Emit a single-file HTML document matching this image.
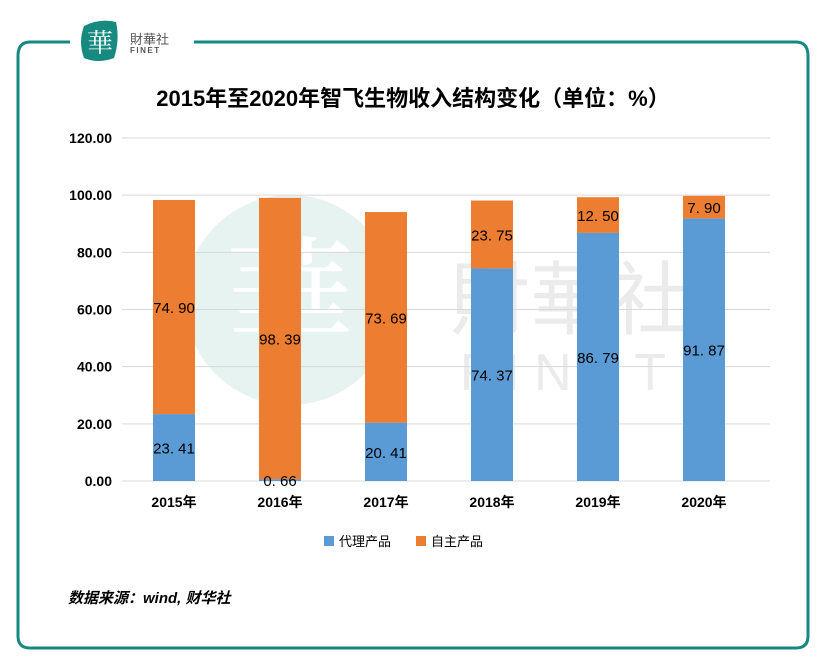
<!DOCTYPE html>
<html><head><meta charset="utf-8"><style>
body{margin:0;width:832px;height:664px;background:#fff;font-family:"Liberation Sans","Noto Sans CJK SC",sans-serif;overflow:hidden}
</style></head><body>
<svg width="832" height="664" style="position:absolute;left:0;top:0">
<path d="M70,42 H30 Q18,42 18,56 V636 Q18,648 30,648 H796 Q808,648 808,636 V56 Q808,42 796,42 H194" fill="none" stroke="#168a80" stroke-width="3"/>
<g>
<path d="M84,26 Q100,18 116,22 Q120,40 114,58 Q98,64 84,58 Q78,42 84,26Z" fill="#168a80"/>
<text x="100" y="52" font-size="26" fill="#fff" text-anchor="middle" font-family="Noto Serif CJK SC,serif">華</text>
<text x="130" y="44" font-size="13" fill="#555" font-family="Noto Sans CJK SC,sans-serif">財華社</text>
<text x="130" y="53" font-size="8" fill="#555" font-weight="bold" letter-spacing="1.5">FINET</text>
</g>
<g opacity="0.5">
<circle cx="290" cy="300" r="105" fill="#cfe8e5"/>
<text x="290" y="345" font-size="130" fill="#fff" text-anchor="middle" font-family="Noto Serif CJK SC,serif">華</text>
<text x="570" y="328" font-size="80" fill="#d9d9d9" text-anchor="middle" font-family="Noto Sans CJK SC,sans-serif">財華社</text>
<text x="570" y="390" font-size="52" fill="#d9d9d9" text-anchor="middle" letter-spacing="14">FINET</text>
</g>
<text x="413" y="106" font-size="22" font-weight="bold" text-anchor="middle">2015年至2020年智飞生物收入结构变化（单位：%）</text>
<g id="plot"></g>
<g>
<rect x="324" y="536" width="10" height="10" fill="#5b9bd5"/>
<text x="339" y="546" font-size="13">代理产品</text>
<rect x="416" y="536" width="10" height="10" fill="#ed7d31"/>
<text x="431" y="546" font-size="13">自主产品</text>
</g>
<text x="68" y="603" font-size="15" font-style="italic" font-weight="bold">数据来源：wind, 财华社</text>
</svg>
<script>
const categories=["2015年","2016年","2017年","2018年","2019年","2020年"];
const agency=[23.41,0.66,20.41,74.37,86.79,91.87];
const own=[74.90,98.39,73.69,23.75,12.50,7.90];
const ticks=[0,20,40,60,80,100,120];
const NS="http://www.w3.org/2000/svg";
const g=document.getElementById('plot');
const x0=121,x1=757,y0=481,y1=138,max=120;
const y=v=>y0-(v/max)*(y0-y1);
const band=(x1-x0)/categories.length;
const xc=i=>x0+band*(i+0.5);
const bw=42;
function mk(t,a){const e=document.createElementNS(NS,t);for(const k in a)e.setAttribute(k,a[k]);g.appendChild(e);return e;}
ticks.forEach(t=>{
const l=mk('line',{x1:122,x2:770,y1:y(t),y2:y(t),stroke:'#d9d9d9','stroke-width':1});


const tx=mk('text',{x:112,y:y(t)+5,'font-size':14,'font-weight':'bold','text-anchor':'end'});
tx.textContent=t.toFixed(2);


});
categories.forEach((c,i)=>{
const ra=mk('rect',{x:xc(i)-bw/2,y:y(agency[i]),width:bw,height:y0-y(agency[i]),fill:'#5b9bd5'});


const ro=mk('rect',{x:xc(i)-bw/2,y:y(agency[i]+own[i]),width:bw,height:y(agency[i])-y(agency[i]+own[i]),fill:'#ed7d31'});


const la=mk('text',{x:xc(i),y:(y(agency[i])+y0)/2+6,'font-size':15,'text-anchor':'middle'});
la.textContent=agency[i].toFixed(2).replace('.','. ');


const lo=mk('text',{x:xc(i),y:(y(agency[i])+y(agency[i]+own[i]))/2+6,'font-size':15,'text-anchor':'middle'});
lo.textContent=own[i].toFixed(2).replace('.','. ');


const cx=mk('text',{x:xc(i),y:507,'font-size':14,'font-weight':'bold','text-anchor':'middle'});
cx.textContent=c;


});
</script>
</body></html>
